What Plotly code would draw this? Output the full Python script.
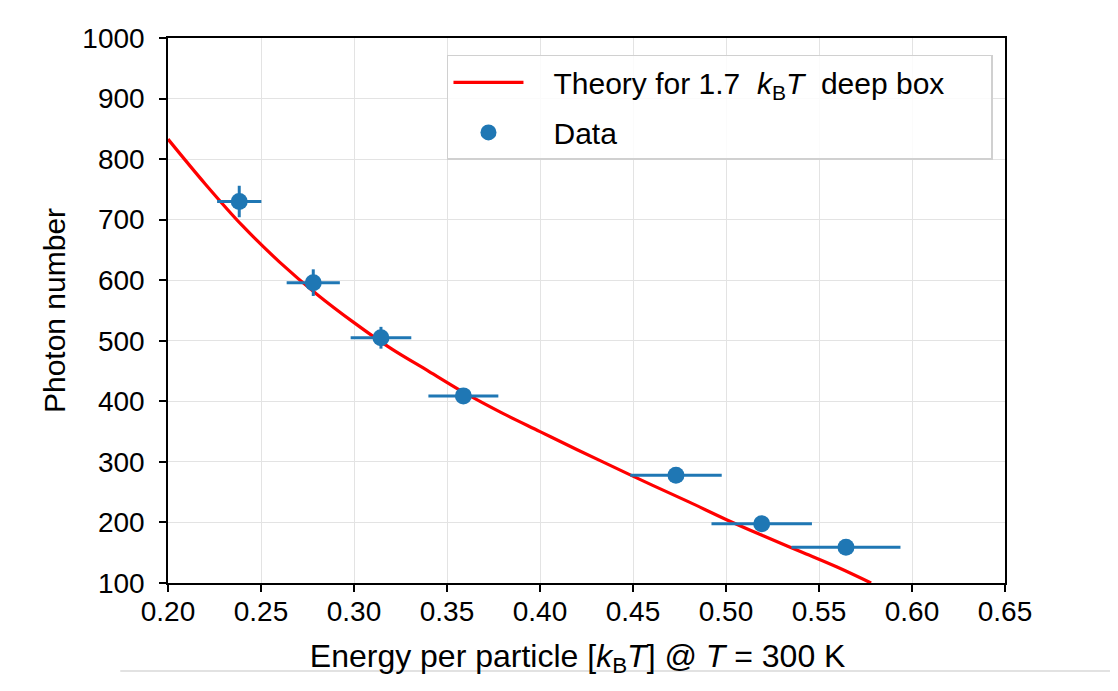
import plotly.graph_objects as go

# Data points
energy = [0.2383, 0.2781, 0.3145, 0.3588, 0.4731, 0.5192, 0.5645]
energy_err = [0.0119, 0.0143, 0.0163, 0.0188, 0.0246, 0.0270, 0.0293]
photons = [730, 596, 505, 409, 278, 198, 159]
photons_err = [26, 22, 18, 8, 5, 5, 5]

# Theory curve
theory_x = [0.200, 0.220, 0.240, 0.260, 0.280, 0.300, 0.320, 0.340, 0.360, 0.380,
            0.400, 0.420, 0.440, 0.460, 0.480, 0.500, 0.520, 0.540, 0.560, 0.578]
theory_y = [833, 759, 690, 630, 577, 530, 487, 450, 413, 380,
            350, 320, 291, 262, 234, 205, 178, 152, 126, 100]

x_ticks = [0.20, 0.25, 0.30, 0.35, 0.40, 0.45, 0.50, 0.55, 0.60, 0.65]
y_ticks = [100, 200, 300, 400, 500, 600, 700, 800, 900, 1000]

FONT = "Liberation Sans, Arial, sans-serif"

fig = go.Figure()
fig.add_trace(go.Scatter(
    x=theory_x, y=theory_y, mode="lines", line=dict(color="#ff0000", width=3.2, shape="spline"),
    name="&nbsp;&nbsp;&nbsp;Theory for 1.7 &nbsp;<i>k</i><sub>B</sub><i>T</i>&nbsp; deep box&nbsp;&nbsp;&nbsp;&nbsp;&nbsp;",
    legendgroup="a",
))
fig.add_trace(go.Scatter(
    x=energy, y=photons, mode="markers",
    marker=dict(color="#1f77b4", size=17),
    error_x=dict(type="data", array=energy_err, color="#1f77b4", thickness=3, width=0),
    error_y=dict(type="data", array=photons_err, color="#1f77b4", thickness=3, width=0),
    name="&nbsp;&nbsp;&nbsp;Data",
    legendgroup="b",
))

fig.update_layout(
    width=1110, height=683,
    margin=dict(l=160, r=113, t=30, b=108),
    paper_bgcolor="white", plot_bgcolor="white",
    font=dict(family=FONT, size=28, color="black"),
    showlegend=True,
    legend=dict(
        x=0.3333, y=0.969, xanchor="left", yanchor="top",
        bgcolor="rgba(255,255,255,0.85)", bordercolor="#d0d0d0", borderwidth=1.5,
        font=dict(family=FONT, size=30, color="black"), itemwidth=70, tracegroupgap=8,
    ),
)
fig.update_xaxes(
    range=[0.20, 0.65], tickvals=x_ticks, ticktext=[f"{v:.2f}" for v in x_ticks],
    showgrid=True, gridcolor="#e3e3e3", gridwidth=1,
    showline=True, linecolor="black", linewidth=1.5, mirror=True,
    ticks="outside", ticklen=7, tickwidth=1.5, tickcolor="black",
    zeroline=False, automargin=False, ticklabelstandoff=-4,
    tickfont=dict(family=FONT, size=28, color="black"),
    title=dict(text="Energy per particle [<i>k</i><sub>B</sub><i>T</i>] @ <i>T</i> = 300 K&nbsp;&nbsp;",
               standoff=18, font=dict(family=FONT, size=32, color="black")),
)
fig.update_yaxes(
    range=[100, 1000], tickvals=y_ticks,
    showgrid=True, gridcolor="#e3e3e3", gridwidth=1,
    showline=True, linecolor="black", linewidth=1.5, mirror=True,
    ticks="outside", ticklen=7, tickwidth=1.5, tickcolor="black",
    zeroline=False, automargin=False, ticklabelstandoff=9,
    tickfont=dict(family=FONT, size=28, color="black"),
    title=dict(text="Photon number", standoff=8, font=dict(family=FONT, size=30, color="black")),
)
fig.add_shape(type="line", xref="paper", yref="paper", x0=-0.057, x1=1.14, y0=-0.1615, y1=-0.1615,
              line=dict(color="#d8d8d8", width=1.5))

fig.write_html("out.html")
